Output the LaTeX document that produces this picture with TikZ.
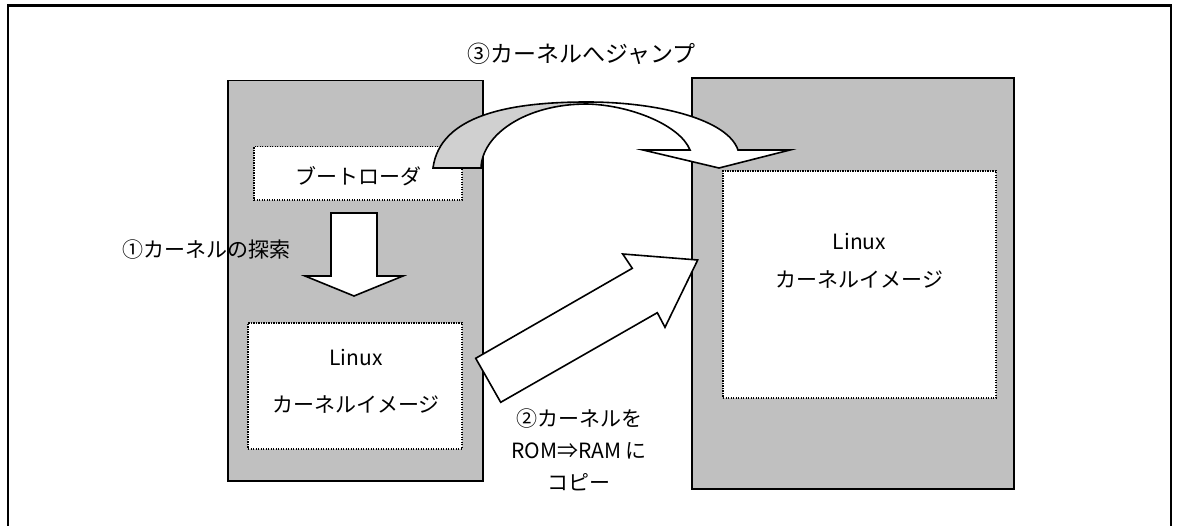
\documentclass[tikz,border=0pt]{standalone}
\usepackage{fontspec}
\setmainfont{Noto Sans CJK JP}
\begin{document}
\begin{tikzpicture}[x=1pt,y=-1pt,
  membox/.style={draw=black,line width=1.4pt,fill=memgray,inner sep=0pt,minimum width=#1},
  dotbox/.style={draw=black,line width=1.3pt,dash pattern=on 1.4pt off 1.1pt,fill=white,inner sep=0pt},
  lbl/.style={inner sep=0pt,font=\fontsize{21}{25}\selectfont},
  bigarrow/.style={draw=black,line width=1.6pt,line join=miter,fill=white},
  backarrow/.style={draw=black,line width=1.6pt,fill=backgray}]
\definecolor{memgray}{HTML}{C0C0C0}
\definecolor{backgray}{HTML}{D0D0D0}
\useasboundingbox (0,0) rectangle (1179,526);
\clip (0,0) rectangle (1179,526);
% outer frame
\draw[line width=2.2pt] (8,5.5) rectangle (1171,560);
% memory blocks
\node[membox=255pt,minimum height=400.5pt] (rom) at (355.5,280.75) {};
\node[membox=322pt,minimum height=411pt] (ram) at (853,283.5) {};
% inner boxes
\node[dotbox,minimum width=208pt,minimum height=53.4pt] (boot) at (358,173.3) {};
\node[lbl] (boottxt) at (358,176.5) {ブートローダ};
\node[dotbox,minimum width=214pt,minimum height=126pt] (kimg) at (355,386) {};
\node[lbl] (klinux) at (356,358) {Linux};
\node[lbl] (kname) at (356,405) {カーネルイメージ};
\node[dotbox,minimum width=273pt,minimum height=227pt] (rimg) at (859.5,284.5) {};
\node[lbl] (rlinux) at (859.5,241.6) {Linux};
\node[lbl] (rname) at (859.5,279.5) {カーネルイメージ};
% step 1 arrow (down)
\coordinate (d1) at (331,213);
\draw[bigarrow] (d1) -- ++(46,0) -- ++(0,63) -- ++(26,0) -- (354,296) -- (305,276) -- (331,276) -- cycle;
\node[lbl] (s1) at (206.5,250) {①カーネルの探索};
% step 2 arrow (diagonal)
\coordinate (t1) at (500.7,402.3);
\draw[bigarrow] (t1) -- (475.7,358.3) -- (632.3,268.3) -- (622.7,254) -- (697.7,260) -- (665,327.3) -- (657.3,312.7) -- cycle;
\node[lbl] (s2a) at (579,419) {②カーネルを};
\node[lbl] (s2b) at (579,450.6) {ROM⇒RAM に};
\node[lbl] (s2c) at (579,482) {コピー};
% step 3 arrow (curved jump)
\coordinate (c0) at (433,168);
\draw[backarrow,line join=miter] (c0) .. controls (440,115) and (510,102) .. (587,102)
   -- (587,104) .. controls (525,104) and (482,135) .. (481,168) -- cycle;
\draw[bigarrow] (587,102) .. controls (660,102) and (728,120) .. (738,150)
   -- (790,150) -- (719,168) -- (643,150) -- (690,150)
   .. controls (680,125) and (630,105) .. (587,104) -- cycle;
\node[lbl,font=\fontsize{23}{27}\selectfont] (s3) at (581.5,54) {③カーネルへジャンプ};
\end{tikzpicture}
\end{document}
